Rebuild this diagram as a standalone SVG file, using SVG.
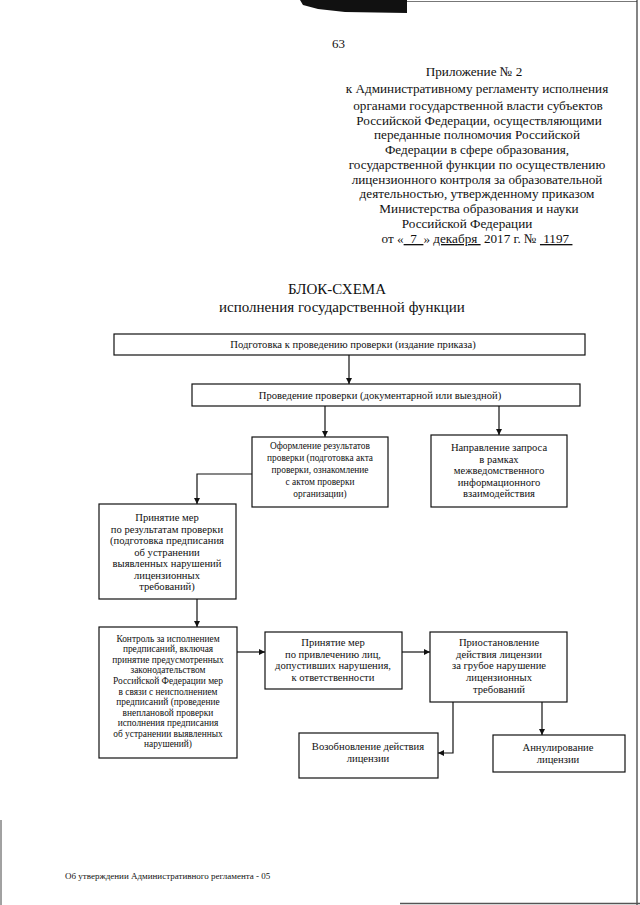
<svg xmlns="http://www.w3.org/2000/svg" width="640" height="905" viewBox="0 0 640 905">
<style>
text{font-family:"Liberation Serif","Times New Roman",serif;fill:#111}
.h{font-size:13.2px;text-anchor:middle}
.t{font-size:15px;text-anchor:middle}
.b{font-size:10.6px;text-anchor:middle}
.s{font-size:9.4px;text-anchor:middle}
.box{fill:#fff;stroke:#111;stroke-width:1.2}
.c{fill:none;stroke:#111;stroke-width:1.2}
</style>
<defs>
<marker id="ah" viewBox="0 0 10 10" refX="10" refY="5" markerWidth="6" markerHeight="6" orient="auto" markerUnits="userSpaceOnUse">
<path d="M0,0 L10,5 L0,10 z" fill="#111"/>
</marker>
</defs>
<rect width="640" height="905" fill="#fff"/>
<g id="scan-edges">
<polygon points="300,0 407,0 407,13 345,12 318,9 303,5" fill="#111"/>
<line x1="407" y1="1.5" x2="637" y2="1.5" stroke="#777" stroke-width="1"/>
<line x1="637" y1="0" x2="637" y2="905" stroke="#333" stroke-width="1.2"/>
<line x1="1" y1="820" x2="1" y2="905" stroke="#444" stroke-width="1"/>
<line x1="400" y1="903.5" x2="640" y2="903.5" stroke="#555" stroke-width="1.5"/>
</g>
<g id="header">
<text x="332" y="48" style="font-size:13px">63</text>
<text class="h" x="474" y="76">Приложение № 2</text>
<text class="h" x="477" y="93">к Административному регламенту исполнения</text>
<text class="h" x="478" y="110">органами государственной власти субъектов</text>
<text class="h" x="479" y="125">Российской Федерации, осуществляющими</text>
<text class="h" x="477" y="139">переданные полномочия Российской</text>
<text class="h" x="477" y="154">Федерации в сфере образования,</text>
<text class="h" x="477" y="169">государственной функции по осуществлению</text>
<text class="h" x="477" y="184">лицензионного контроля за образовательной</text>
<text class="h" x="477" y="198">деятельностью, утвержденному приказом</text>
<text class="h" x="479" y="213">Министерства образования и науки</text>
<text class="h" x="467" y="228">Российской Федерации</text>
<text class="h" x="477" y="243" xml:space="preserve">от «<tspan text-decoration="underline">  7  </tspan>» <tspan text-decoration="underline">декабря </tspan> 2017 г. № <tspan text-decoration="underline"> 1197 </tspan></text>
</g>
<g id="title">
<text class="t" x="337" y="294">БЛОК-СХЕМА</text>
<text class="t" x="342" y="312">исполнения государственной функции</text>
</g>
<g id="connectors">
<line class="c" x1="349" y1="355" x2="349" y2="384" marker-end="url(#ah)"/>
<line class="c" x1="325" y1="406" x2="325" y2="437" marker-end="url(#ah)"/>
<line class="c" x1="499" y1="406" x2="499" y2="435" marker-end="url(#ah)"/>
<polyline class="c" points="252,474 197,474 197,504" marker-end="url(#ah)"/>
<line class="c" x1="197" y1="599" x2="197" y2="627" marker-end="url(#ah)"/>
<line class="c" x1="237" y1="652" x2="265" y2="652" marker-end="url(#ah)"/>
<line class="c" x1="402" y1="652" x2="430" y2="652" marker-end="url(#ah)"/>
<polyline class="c" points="453,702 453,753 438,753" marker-end="url(#ah)"/>
<line class="c" x1="542" y1="702" x2="542" y2="735" marker-end="url(#ah)"/>
</g>
<g id="n1">
<rect class="box" x="114" y="334" width="471" height="21"/>
<text class="b" x="353" y="348">Подготовка к проведению проверки (издание приказа)</text>
</g>
<g id="n2">
<rect class="box" x="192" y="384" width="388" height="22"/>
<text class="b" x="380" y="399">Проведение проверки (документарной или выездной)</text>
</g>
<g id="n3">
<rect class="box" x="252" y="437" width="136" height="70"/>
<text class="s" x="320" y="448.5">Оформление результатов</text>
<text class="s" x="320" y="460.5">проверки (подготовка акта</text>
<text class="s" x="320" y="472.5">проверки, ознакомление</text>
<text class="s" x="320" y="484.5">с актом проверки</text>
<text class="s" x="320" y="496.5">организации)</text>
</g>
<g id="n4">
<rect class="box" x="431" y="435" width="136" height="72"/>
<text class="b" x="499" y="451">Направление запроса</text>
<text class="b" x="499" y="462.5">в рамках</text>
<text class="b" x="499" y="474">межведомственного</text>
<text class="b" x="499" y="485.5">информационного</text>
<text class="b" x="499" y="497">взаимодействия</text>
</g>
<g id="n5">
<rect class="box" x="99" y="504" width="137" height="95"/>
<text class="b" x="167" y="521">Принятие мер</text>
<text class="b" x="167" y="532.5">по результатам проверки</text>
<text class="b" x="167" y="544">(подготовка предписания</text>
<text class="b" x="167" y="555.5">об устранении</text>
<text class="b" x="167" y="567">выявленных нарушений</text>
<text class="b" x="167" y="578.5">лицензионных</text>
<text class="b" x="167" y="590">требований)</text>
</g>
<g id="n6">
<rect class="box" x="99" y="627" width="138" height="131"/>
<text class="s" x="168" y="641.5">Контроль за исполнением</text>
<text class="s" x="168" y="652">предписаний, включая</text>
<text class="s" x="168" y="662.5">принятие предусмотренных</text>
<text class="s" x="168" y="673">законодательством</text>
<text class="s" x="168" y="684">Российской Федерации мер</text>
<text class="s" x="168" y="694.5">в связи с неисполнением</text>
<text class="s" x="168" y="705">предписаний (проведение</text>
<text class="s" x="168" y="715.5">внеплановой проверки</text>
<text class="s" x="168" y="726">исполнения предписания</text>
<text class="s" x="168" y="736.5">об устранении выявленных</text>
<text class="s" x="168" y="747">нарушений)</text>
</g>
<g id="n7">
<rect class="box" x="265" y="632" width="137" height="57"/>
<text class="b" x="333" y="646">Принятие мер</text>
<text class="b" x="333" y="657.5">по привлечению лиц,</text>
<text class="b" x="333" y="669">допустивших нарушения,</text>
<text class="b" x="333" y="680.5">к ответственности</text>
</g>
<g id="n8">
<rect class="box" x="430" y="632" width="137" height="70"/>
<text class="b" x="499" y="646">Приостановление</text>
<text class="b" x="499" y="657.5">действия лицензии</text>
<text class="b" x="499" y="669">за грубое нарушение</text>
<text class="b" x="499" y="680.5">лицензионных</text>
<text class="b" x="499" y="693">требований</text>
</g>
<g id="n9">
<rect class="box" x="299" y="733" width="139" height="45"/>
<text class="b" x="368" y="750">Возобновление действия</text>
<text class="b" x="368" y="761.5">лицензии</text>
</g>
<g id="n10">
<rect class="box" x="493" y="735" width="132" height="37"/>
<text class="b" x="558" y="751">Аннулирование</text>
<text class="b" x="558" y="762.5">лицензии</text>
</g>
<g id="footer">
<text x="65" y="879" style="font-size:9px">Об утверждении Административного регламента - 05</text>
</g>
</svg>
